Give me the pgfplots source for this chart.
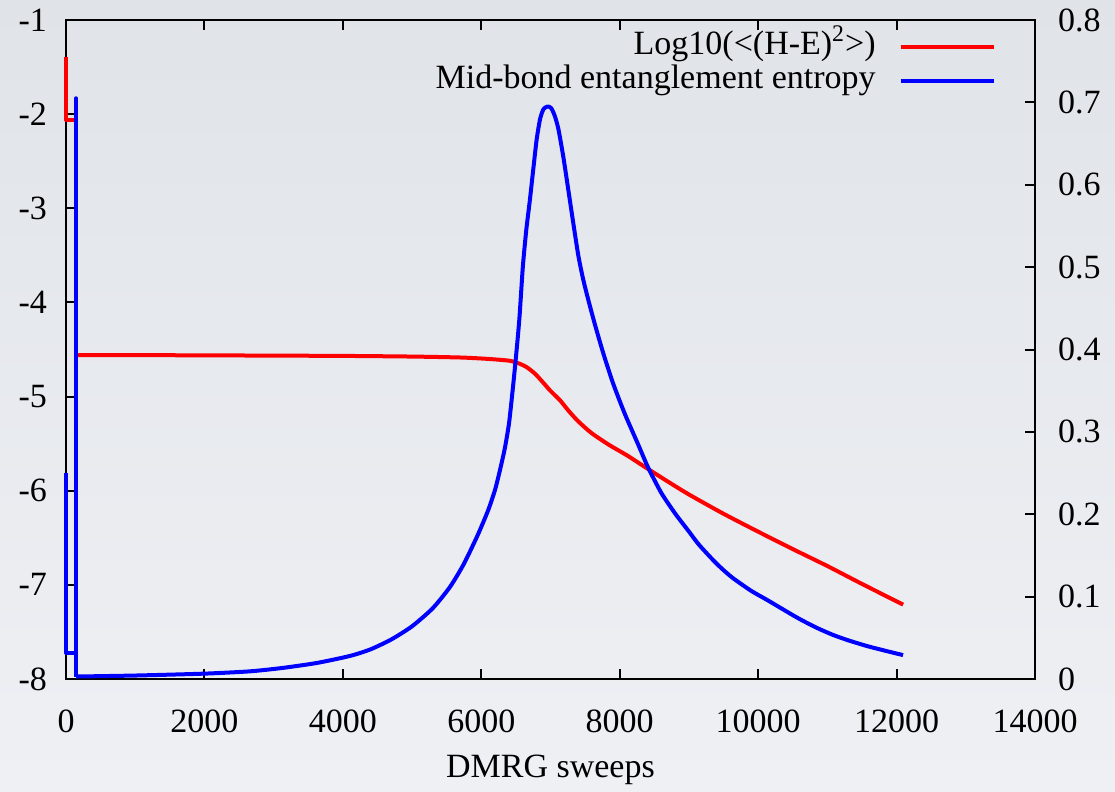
\documentclass[border=0pt]{standalone}
\usepackage{pgfplots}
\pgfplotsset{compat=1.18}
\usepackage{pgfplotstable}
\usepackage{fontspec}
\setmainfont{Liberation Serif}
\definecolor{bgtop}{RGB}{224,228,233}
\definecolor{bgbot}{RGB}{239,240,244}

\pgfplotstableread{
x y
0 -1.39
0 -2.06
145 -2.06
145 -4.56
}\redstart

\pgfplotstableread{
x y
145 -4.56
1000 -4.56
2000 -4.562
3000 -4.565
4000 -4.568
5000 -4.575
5700 -4.585
6100 -4.60
6415 -4.62
6550 -4.65
6661 -4.69
6780 -4.76
6892 -4.85
7000 -4.94
7138 -5.04
7260 -5.15
7383 -5.25
7500 -5.33
7615 -5.40
7850 -5.515
8106 -5.625
8400 -5.765
8700 -5.905
9000 -6.04
9500 -6.245
10000 -6.435
10500 -6.62
11000 -6.80
11500 -6.99
12094 -7.21
}\redtable

\pgfplotstableread{
x y
0 0.25
0 0.032
145 0.032
145 0.705
145 0.003
}\bluestart

\pgfplotstableread{
x y
145 0.003
1000 0.0042
2000 0.0065
2659 0.0093
3135 0.0135
3627 0.0195
4104 0.028
4400 0.036
4700 0.048
5000 0.064
5300 0.086
5550 0.112
5750 0.140
5950 0.175
6100 0.205
6200 0.230
6271 0.254
6340 0.28
6400 0.31
6450 0.348
6500 0.39
6550 0.437
6600 0.50
6650 0.545
6700 0.58
6750 0.618
6800 0.655
6850 0.68
6900 0.692
6960 0.695
7010 0.693
7060 0.684
7113 0.668
7185 0.634
7257 0.594
7330 0.553
7402 0.514
7470 0.486
7550 0.459
7643 0.430
7764 0.395
7908 0.358
8073 0.322
8265 0.285
8409 0.257
8600 0.226
8800 0.201
9000 0.179
9150 0.1625
9400 0.140
9620 0.1235
9900 0.107
10129 0.096
10400 0.0825
10606 0.0725
10850 0.062
11082 0.0535
11300 0.047
11573 0.040
11850 0.034
12094 0.029
}\bluetable

\begin{document}
\begin{tikzpicture}[font=\fontsize{17}{20}\selectfont]
\shade[top color=bgtop,bottom color=bgbot] (-33pt,-56.5pt) rectangle (524.5pt,339.5pt);
\begin{axis}[
  at={(0,0)}, anchor=south west,
  scale only axis, width=484.5pt, height=329.5pt,
  xmin=0, xmax=14000, ymin=-8, ymax=-1,
  scaled x ticks=false, scaled y ticks=false,
  xtick={0,2000,4000,6000,8000,10000,12000,14000},
  xticklabels={\mbox{0},\mbox{2000},\mbox{4000},\mbox{6000},\mbox{8000},\mbox{10000},\mbox{12000},\mbox{14000}},
  ytick={-8,-7,-6,-5,-4,-3,-2,-1},
  yticklabels={\mbox{-8},\mbox{-7},\mbox{-6},\mbox{-5},\mbox{-4},\mbox{-3},\mbox{-2},\mbox{-1}},
  tick align=inside, ytick pos=left, xtick pos=both, xticklabel pos=bottom,
  major tick length=5pt,
  axis line style={line width=1pt, black},
  every tick/.style={black, line width=1pt},
  yticklabel style={xshift=-6pt},
  xticklabel style={yshift=-12pt},
  xlabel={DMRG sweeps},
  xlabel style={yshift=-4pt},
  clip=false,
]
\addplot[red, line width=2pt, line join=round] table[x=x,y=y] {\redstart};
\addplot[red, line width=2pt, line join=round, smooth, tension=0.4] table[x=x,y=y] {\redtable};
\end{axis}
\begin{axis}[
  at={(0,0)}, anchor=south west,
  scale only axis, width=484.5pt, height=329.5pt,
  xmin=0, xmax=14000, ymin=0, ymax=0.8,
  scaled x ticks=false, scaled y ticks=false,
  axis y line*=right, axis x line=none,
  ytick={0,0.1,0.2,0.3,0.4,0.5,0.6,0.7,0.8},
  yticklabels={\mbox{0},\mbox{0.1},\mbox{0.2},\mbox{0.3},\mbox{0.4},\mbox{0.5},\mbox{0.6},\mbox{0.7},\mbox{0.8}},
  tick align=inside, major tick length=5pt,
  axis line style={line width=1pt, black, -},
  every tick/.style={black, line width=1pt},
  yticklabel style={xshift=8pt},
  clip=false,
  legend style={at={(0.9598,0.985)}, anchor=north east, draw=none, fill=none,
    inner sep=0pt, column sep=11.5pt, row sep=0pt,
    nodes={inner sep=0pt, text height=12pt, text depth=5pt}},
  legend cell align=right, legend plot pos=right,
  legend image code/.code={\draw[#1] (0pt,0pt) -- (46.5pt,0pt);},
]
\addlegendimage{red, line width=2pt}
\addlegendentry{Log10(<(H-E)\textsuperscript{2}>)}
\addplot[blue, line width=2pt, line join=round, forget plot] table[x=x,y=y] {\bluestart};
\addplot[blue, line width=2pt, line join=round, smooth, tension=0.4] table[x=x,y=y] {\bluetable};
\addlegendentry{Mid-bond entanglement entropy}
\end{axis}
\end{tikzpicture}
\end{document}
